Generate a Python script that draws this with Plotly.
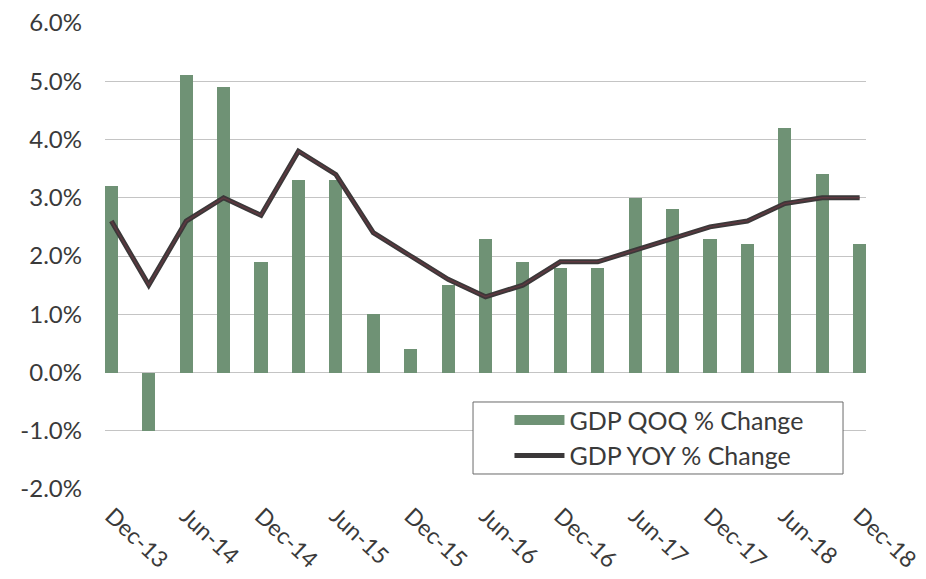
import plotly.graph_objects as go

# Quarterly GDP growth, Dec-13 through Dec-18 (percent)
quarters = [
    "Dec-13", "Mar-14", "Jun-14", "Sep-14", "Dec-14", "Mar-15", "Jun-15",
    "Sep-15", "Dec-15", "Mar-16", "Jun-16", "Sep-16", "Dec-16", "Mar-17",
    "Jun-17", "Sep-17", "Dec-17", "Mar-18", "Jun-18", "Sep-18", "Dec-18",
]
gdp_qoq = [3.2, -1.0, 5.1, 4.9, 1.9, 3.3, 3.3, 1.0, 0.4, 1.5, 2.3,
           1.9, 1.8, 1.8, 3.0, 2.8, 2.3, 2.2, 4.2, 3.4, 2.2]
gdp_yoy = [2.6, 1.5, 2.6, 3.0, 2.7, 3.8, 3.4, 2.4, 2.0, 1.6, 1.3,
           1.5, 1.9, 1.9, 2.1, 2.3, 2.5, 2.6, 2.9, 3.0, 3.0]
x_tick_labels = quarters[::2]
y_ticks = [-2, -1, 0, 1, 2, 3, 4, 5, 6]
y_tick_labels = [f"{v:.1f}%" for v in y_ticks]

BAR_COLOR = "#6f9275"
LINE_COLOR = "#3b3839"
LINE_CORE = "#6e3843"
TEXT_COLOR = "#3a3a3a"
GRID_COLOR = "#c4c4c4"
FONT = "Lato"

fig = go.Figure()

fig.add_trace(go.Bar(
    x=quarters, y=gdp_qoq, name="GDP QOQ % Change",
    marker=dict(color=BAR_COLOR, line=dict(width=0)),
    width=0.35, showlegend=False,
))
fig.add_trace(go.Scatter(
    x=quarters, y=gdp_yoy, name="GDP YOY % Change", mode="lines",
    line=dict(color=LINE_COLOR, width=5), showlegend=False,
))
fig.add_trace(go.Scatter(
    x=quarters, y=gdp_yoy, mode="lines", hoverinfo="skip",
    line=dict(color=LINE_CORE, width=1.5), opacity=0.7, showlegend=False,
))

# Legend keys: a wide green block for the bars and a thick line for YOY
fig.add_trace(go.Scatter(
    x=[None], y=[None], mode="lines", name="GDP QOQ % Change",
    line=dict(color=BAR_COLOR, width=14),
))
fig.add_trace(go.Scatter(
    x=[None], y=[None], mode="lines", name="GDP YOY % Change",
    line=dict(color=LINE_COLOR, width=5),
))

# White framed box behind the legend
fig.add_shape(
    type="rect", xref="paper", yref="paper",
    x0=0.4836, x1=0.9698, y0=0.0322, y1=0.1867,
    fillcolor="white", line=dict(color="#6a6a6a", width=1), layer="above",
)

fig.update_layout(
    width=926, height=579,
    margin=dict(l=105, r=60, t=23, b=90),
    paper_bgcolor="white", plot_bgcolor="white",
    font=dict(family=FONT, size=24, color=TEXT_COLOR),
    bargap=0,
    legend=dict(
        x=0.5315, y=0.197, xanchor="left", yanchor="top",
        bgcolor="rgba(0,0,0,0)", borderwidth=0,
        font=dict(family=FONT, size=25, color=TEXT_COLOR),
        itemwidth=50, tracegroupgap=0,
    ),
    xaxis=dict(
        type="category", range=[-0.17, 20.17],
        tickmode="array", tickvals=x_tick_labels, ticktext=x_tick_labels,
        tickangle=43, showgrid=False, showline=False, zeroline=False,
        tickfont=dict(size=23),
        ticks="", ticklabelstandoff=8, automargin=False,
    ),
    yaxis=dict(
        range=[-2, 6], tickmode="array", tickvals=y_ticks,
        ticktext=y_tick_labels,
        showgrid=True, gridcolor=GRID_COLOR, gridwidth=1,
        zeroline=True, zerolinecolor=GRID_COLOR, zerolinewidth=1,
        showline=False, ticks="", ticklabelstandoff=22, automargin=False,
    ),
)

fig.write_html("out.html")
